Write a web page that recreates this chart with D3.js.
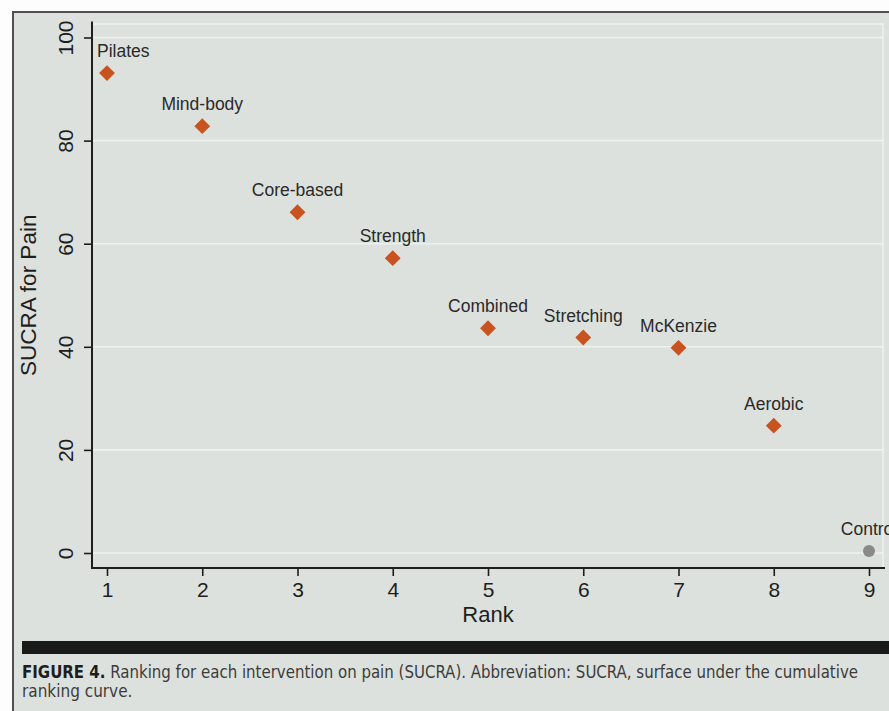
<!DOCTYPE html>
<html>
<head>
<meta charset="utf-8">
<script src="https://cdn.jsdelivr.net/npm/d3@7"></script>
<style>
  html, body { margin: 0; padding: 0; background: #ffffff; }
  svg { display: block; }
</style>
</head>
<body>
<svg id="chart" width="889" height="711"></svg>
<script>
// Ranking of each intervention on pain (SUCRA values)
const treatments = ["Pilates", "Mind-body", "Core-based", "Strength", "Combined",
                    "Stretching", "McKenzie", "Aerobic", "Control"];
const ranks = [1, 2, 3, 4, 5, 6, 7, 8, 9];
const sucra = [93.1, 82.8, 66.1, 57.2, 43.6, 41.8, 39.8, 24.7, 0.4];
const isReference = [false, false, false, false, false, false, false, false, true];

const xTicks = [1, 2, 3, 4, 5, 6, 7, 8, 9];
const yTicks = [0, 20, 40, 60, 80, 100];

const xTitle = "Rank";
const yTitle = "SUCRA for Pain";
const captionBold = "FIGURE 4.";
const captionLine1 = " Ranking for each intervention on pain (SUCRA). Abbreviation: SUCRA, surface under the cumulative";
const captionLine2 = "ranking curve.";

const W = 889, H = 711;
const bg = "#dce1dd";
const gridCol = "#eef2ef";
const ink = "#1e1e1e";
const font = "'Liberation Sans', Arial, sans-serif";
const narrow = "'Liberation Sans Narrow', 'DejaVu Sans Condensed', 'Liberation Sans', sans-serif";

const svg = d3.select("#chart");

// page background and frame
svg.append("rect").attr("x", 0).attr("y", 0).attr("width", W).attr("height", H).attr("fill", "#fdfdfd");
svg.append("rect").attr("x", 13).attr("y", 12).attr("width", W - 13).attr("height", H - 12).attr("fill", bg);
svg.append("line").attr("x1", 12).attr("x2", W).attr("y1", 12).attr("y2", 12)
  .attr("stroke", "#505050").attr("stroke-width", 2);
svg.append("line").attr("x1", 13).attr("x2", 13).attr("y1", 11).attr("y2", H)
  .attr("stroke", "#505050").attr("stroke-width", 2);

// plot region
const plot = { left: 92, right: 883, top: 24, bottom: 568 };
const x = d3.scaleLinear().domain([1, 9]).range([107, 869]);
const y = d3.scaleLinear().domain([0, 100]).range([553, 37.5]);

svg.append("rect")
  .attr("x", plot.left).attr("y", plot.top)
  .attr("width", plot.right - plot.left).attr("height", plot.bottom - plot.top)
  .attr("fill", bg).attr("stroke", gridCol).attr("stroke-width", 1.5);

// horizontal gridlines
svg.append("g").selectAll("line").data(yTicks).join("line")
  .attr("x1", plot.left).attr("x2", plot.right)
  .attr("y1", d => y(d)).attr("y2", d => y(d))
  .attr("stroke", gridCol).attr("stroke-width", 1.6);

// y axis
const yAxis = svg.append("g")
  .attr("transform", `translate(${plot.left},0)`)
  .call(d3.axisLeft(y).tickValues(yTicks).tickSize(8).tickPadding(0));
yAxis.select(".domain").remove();
yAxis.selectAll(".tick line").attr("stroke", ink).attr("stroke-width", 1.6);
yAxis.selectAll(".tick text")
  .attr("x", null).attr("dy", null)
  .attr("transform", "translate(-19.5,0) rotate(-90)")
  .attr("text-anchor", "middle")
  .attr("font-family", font).attr("font-size", 21).attr("fill", ink);

// x axis
const xAxis = svg.append("g")
  .attr("transform", `translate(0,${plot.bottom})`)
  .call(d3.axisBottom(x).tickValues(xTicks).tickSize(8).tickPadding(6).tickFormat(d3.format("d")));
xAxis.select(".domain").remove();
xAxis.selectAll(".tick line").attr("stroke", ink).attr("stroke-width", 1.6);
xAxis.selectAll(".tick text")
  .attr("font-family", font).attr("font-size", 21).attr("fill", ink);

// axis lines
svg.append("line").attr("x1", plot.left).attr("x2", plot.left)
  .attr("y1", 21.5).attr("y2", plot.bottom + 1)
  .attr("stroke", ink).attr("stroke-width", 2);
svg.append("line").attr("x1", plot.left - 1).attr("x2", plot.right + 2)
  .attr("y1", plot.bottom).attr("y2", plot.bottom)
  .attr("stroke", ink).attr("stroke-width", 2);

// axis titles
svg.append("text")
  .attr("transform", `translate(36,${(y(0) + y(100)) / 2}) rotate(-90)`)
  .attr("text-anchor", "middle")
  .attr("font-family", font).attr("font-size", 22.5).attr("fill", ink)
  .text(yTitle);
svg.append("text")
  .attr("x", (x(1) + x(9)) / 2).attr("y", 622)
  .attr("text-anchor", "middle")
  .attr("font-family", font).attr("font-size", 22).attr("fill", ink)
  .text(xTitle);

// points
const points = ranks.map((r, i) => ({ rank: r, value: sucra[i], name: treatments[i], ref: isReference[i] }));

const diamond = d3.symbol(d3.symbolSquare, 125)();
svg.append("g").selectAll("path").data(points.filter(d => !d.ref)).join("path")
  .attr("d", diamond)
  .attr("transform", d => `translate(${x(d.rank)},${y(d.value)}) rotate(45)`)
  .attr("fill", "#c8531f");
svg.append("g").selectAll("circle").data(points.filter(d => d.ref)).join("circle")
  .attr("cx", d => x(d.rank)).attr("cy", d => y(d.value))
  .attr("r", 6).attr("fill", "#8a8a8a");

// point labels, kept inside the plot region on the left
const labels = svg.append("g").selectAll("text").data(points).join("text")
  .attr("x", d => x(d.rank)).attr("y", d => y(d.value) - 16)
  .attr("text-anchor", "middle")
  .attr("font-family", font).attr("font-size", 17.5).attr("fill", "#2a2a2a")
  .text(d => d.name);
labels.each(function () {
  const b = this.getBBox();
  if (b.x < plot.left + 5) {
    d3.select(this).attr("text-anchor", "start").attr("x", plot.left + 5);
  }
});

// caption bar and text
svg.append("rect").attr("x", 22).attr("y", 641).attr("width", W - 22).attr("height", 13)
  .attr("fill", "#1a1a1a");
const cap = svg.append("text")
  .attr("x", 22).attr("y", 678)
  .attr("font-family", narrow).attr("font-size", 17).attr("fill", "#3c3c3c");
cap.append("tspan").attr("font-weight", "bold").attr("fill", "#1e1e1e").text(captionBold);
cap.append("tspan").text(captionLine1);
const capW = cap.node().getComputedTextLength();
if (Math.abs(capW - 836) > 4) {
  cap.attr("textLength", 836).attr("lengthAdjust", "spacingAndGlyphs");
}
svg.append("text")
  .attr("x", 22).attr("y", 697)
  .attr("font-family", narrow).attr("font-size", 17).attr("fill", "#3c3c3c")
  .text(captionLine2);
</script>
</body>
</html>
